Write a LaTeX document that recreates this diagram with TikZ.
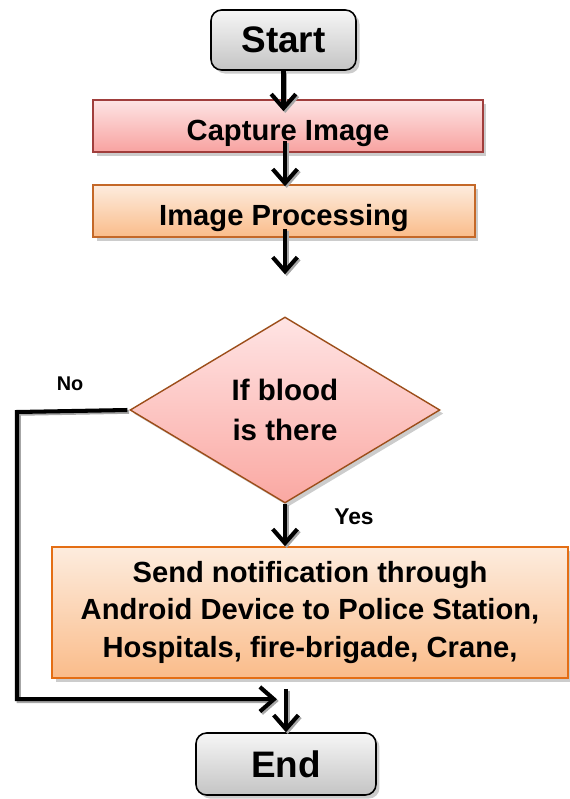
\documentclass[tikz,border=0pt]{standalone}
\usepackage{fontspec}
\setmainfont{Liberation Sans}
\usetikzlibrary{arrows.meta,shapes.geometric,shadows,calc}

\definecolor{greytop}{RGB}{246,246,246}
\definecolor{greybot}{RGB}{196,196,196}
\definecolor{pinktop}{RGB}{253,228,228}
\definecolor{pinkbot}{RGB}{248,162,160}
\definecolor{pinkline}{RGB}{160,62,60}
\definecolor{orgtop}{RGB}{253,236,222}
\definecolor{orgbot}{RGB}{250,188,138}
\definecolor{orgline}{RGB}{196,104,40}
\definecolor{sendline}{RGB}{228,110,20}
\definecolor{diatop}{RGB}{255,228,228}
\definecolor{diabot}{RGB}{250,168,162}
\definecolor{dialine}{RGB}{156,78,26}

\begin{document}
\begin{tikzpicture}[x=0.02cm,y=-0.02cm,>={Straight Barb[length=8pt,width=14pt]},
  box/.style={draw,line width=0.9pt,inner sep=0pt,align=center,
    font=\bfseries\fontsize{16.6}{21.3}\selectfont,
    drop shadow={shadow xshift=2pt,shadow yshift=-2pt,fill=black!40}},
  stepbox/.style={box,text height=16pt,text depth=0pt},
  termbox/.style={box,rounded corners=6pt,draw=black,top color=greytop,
    bottom color=greybot,font=\bfseries\fontsize{21}{25}\selectfont},
  flow/.style={->,line width=2.3pt,
    preaction={draw=black!35,line width=2.3pt,
      transform canvas={shift={(1pt,-1pt)}}}},
  lbl/.style={font=\bfseries\fontsize{11.3}{13}\selectfont}]
  \useasboundingbox (0,0) rectangle (570,799);
  % start and first steps
  \node[termbox,minimum width=2.9cm,minimum height=1.2cm] (start) at (283.5,40) {Start};
  \node[stepbox,draw=pinkline,top color=pinktop,bottom color=pinkbot,
    minimum width=7.8cm,minimum height=1.04cm] (capture) at (288,126) {Capture Image};
  \node[stepbox,draw=orgline,top color=orgtop,bottom color=orgbot,
    minimum width=7.64cm,minimum height=1.04cm] (improc) at (284,211) {Image Processing};
  % decision
  \node[box,shape=diamond,draw=dialine,line width=0.8pt,top color=diatop,bottom color=diabot,
    minimum width=6.2cm,minimum height=3.72cm,
    font=\bfseries\fontsize{16.8}{22.7}\selectfont] (blood) at (285,410) {If blood\\is there};
  \node[lbl] (no) at (70,384) {No};
  \node[lbl,font=\bfseries\fontsize{13}{15}\selectfont] (yes) at (354,517) {Yes};
  % notification
  \node[box,draw=sendline,top color=orgtop,bottom color=orgbot,
    minimum width=10.32cm,minimum height=2.62cm] (send) at (310,612.5)
    {Send notification through\\Android Device to Police Station,\\Hospitals, fire-brigade, Crane,};
  \node[termbox,minimum width=3.6cm,minimum height=1.24cm] (end) at (286,764) {End};
  % arrows
  \coordinate (nocorner) at (17,412);
  \draw[flow] (start.south) -- ($(start.south |- capture.north)+(0,12)$);
  \draw[flow] ($(capture.south -| blood.north)+(0,-12)$) -- ($(improc.north -| blood.north)+(0,2)$);
  \draw[flow] ($(improc.south -| blood.north)+(0,-9)$) -- ($(blood.north)+(0,-42)$);
  \draw[flow] (blood.south) -- (blood.south |- send.north);
  \draw[flow] ($(send.south -| end.north)+(0,10)$) -- (end.north);
  \draw[flow] ($(blood.west)+(-2,0)$) -- (nocorner) |- ($(end.north)+(-9,-33)$);
\end{tikzpicture}
\end{document}
